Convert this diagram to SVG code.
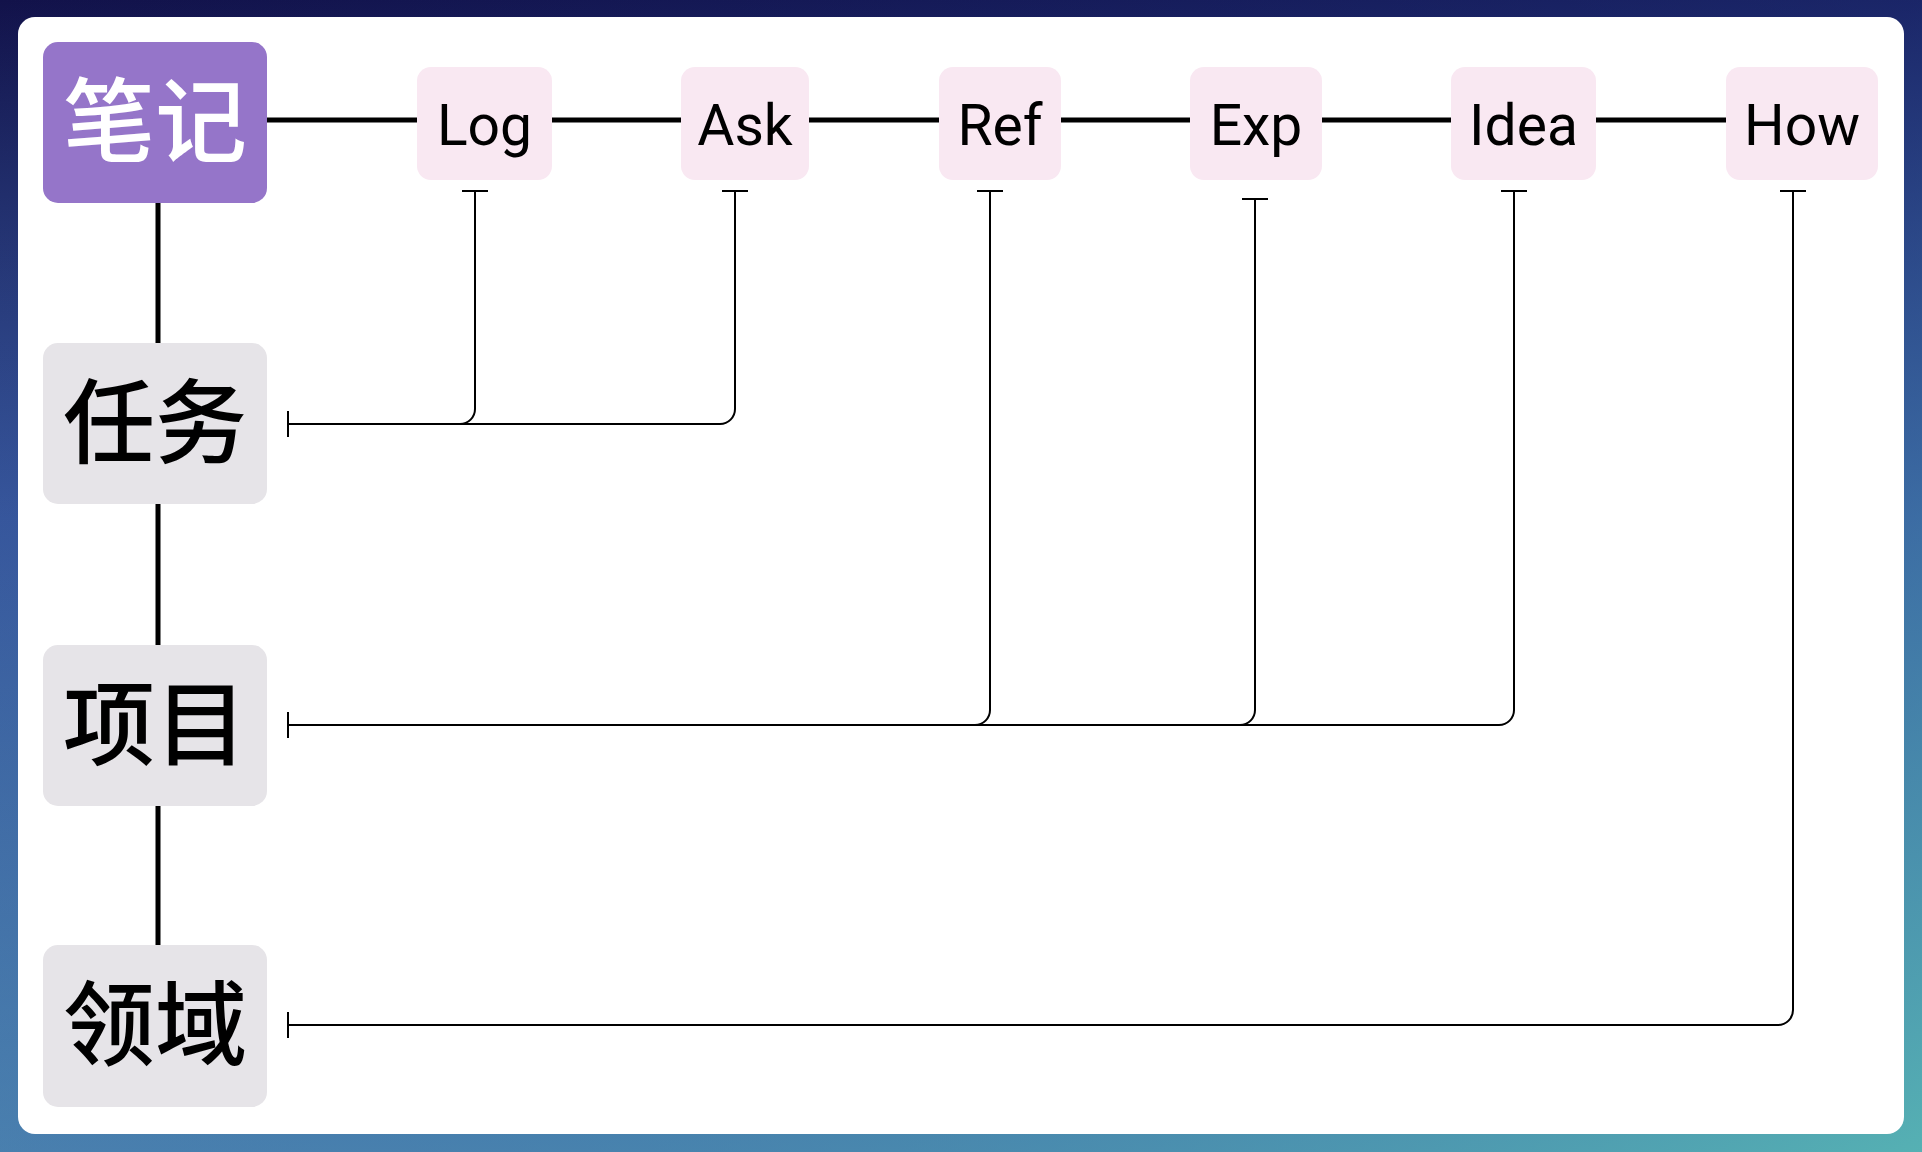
<svg xmlns="http://www.w3.org/2000/svg" width="1922" height="1152" viewBox="0 0 1922 1152">
  <defs>
    <linearGradient id="bgv" x1="0" y1="0" x2="0" y2="1">
      <stop offset="0" stop-color="#12124a"/>
      <stop offset="0.45" stop-color="#3a5a9c"/>
      <stop offset="1" stop-color="#5a9cb6"/>
    </linearGradient>
    <linearGradient id="bgh" x1="0" y1="0" x2="1" y2="1">
      <stop offset="0" stop-color="#1e3c9a" stop-opacity="0"/>
      <stop offset="0.5" stop-color="#2a4aa0" stop-opacity="0.35"/>
      <stop offset="1" stop-color="#55b3b3" stop-opacity="0.9"/>
    </linearGradient>
    <marker id="tee" viewBox="0 0 4 26" refX="2" refY="13" markerWidth="4" markerHeight="26" markerUnits="userSpaceOnUse" orient="auto">
      <line x1="2" y1="0" x2="2" y2="26" stroke="#000" stroke-width="2"/>
    </marker>
    <style>
      .top rect { fill: #f9e8f2; }
      .top text { font-family: Roboto, "Noto Sans", sans-serif; font-size: 57px; fill: #000; text-anchor: middle; }
      .side rect { fill: #e6e4e8; }
      .cjk { font-family: "Noto Sans CJK SC", "Noto Sans", sans-serif; font-size: 92px; font-weight: 500; text-anchor: middle; fill: #000; }
      .thick { stroke: #000; stroke-width: 5; fill: none; }
      .thin { stroke: #000; stroke-width: 2; fill: none; marker-start: url(#tee); marker-end: url(#tee); }
    </style>
  </defs>

  <rect x="0" y="0" width="1922" height="1152" fill="url(#bgv)"/>
  <rect x="0" y="0" width="1922" height="1152" fill="url(#bgh)"/>
  <rect x="18" y="17" width="1886" height="1117" rx="17" fill="#ffffff"/>

  <g id="connectors">
    <line class="thick" x1="267" y1="120" x2="1726" y2="120"/>
    <line class="thick" x1="158" y1="203" x2="158" y2="343"/>
    <line class="thick" x1="158" y1="504" x2="158" y2="645"/>
    <line class="thick" x1="158" y1="806" x2="158" y2="945"/>

    <path class="thin" d="M475,191 V409 A15,15 0 0 1 460,424 H288"/>
    <path class="thin" d="M735,191 V409 A15,15 0 0 1 720,424 H288"/>
    <path class="thin" d="M990,191 V710 A15,15 0 0 1 975,725 H288"/>
    <path class="thin" d="M1255,199 V710 A15,15 0 0 1 1240,725 H288"/>
    <path class="thin" d="M1514,191 V710 A15,15 0 0 1 1499,725 H288"/>
    <path class="thin" d="M1793,191 V1010 A15,15 0 0 1 1778,1025 H288"/>
  </g>

  <g id="node-biji">
    <rect x="43" y="42" width="224" height="161" rx="15" fill="#9575c9"/>
    <text class="cjk" x="155" y="155" style="fill:#ffffff">笔记</text>
  </g>
  <g id="node-renwu" class="side">
    <rect x="43" y="343" width="224" height="161" rx="15"/>
    <text class="cjk" x="155" y="456">任务</text>
  </g>
  <g id="node-xiangmu" class="side">
    <rect x="43" y="645" width="224" height="161" rx="15"/>
    <text class="cjk" x="155" y="758">项目</text>
  </g>
  <g id="node-lingyu" class="side">
    <rect x="43" y="945" width="224" height="162" rx="15"/>
    <text class="cjk" x="155" y="1058">领域</text>
  </g>

  <g id="node-log" class="top">
    <rect x="417" y="67" width="135" height="113" rx="14"/>
    <text x="484.5" y="145">Log</text>
  </g>
  <g id="node-ask" class="top">
    <rect x="681" y="67" width="128" height="113" rx="14"/>
    <text x="745" y="145">Ask</text>
  </g>
  <g id="node-ref" class="top">
    <rect x="939" y="67" width="122" height="113" rx="14"/>
    <text x="1000" y="145">Ref</text>
  </g>
  <g id="node-exp" class="top">
    <rect x="1190" y="67" width="132" height="113" rx="14"/>
    <text x="1256" y="145">Exp</text>
  </g>
  <g id="node-idea" class="top">
    <rect x="1451" y="67" width="145" height="113" rx="14"/>
    <text x="1523.5" y="145">Idea</text>
  </g>
  <g id="node-how" class="top">
    <rect x="1726" y="67" width="152" height="113" rx="14"/>
    <text x="1802" y="145">How</text>
  </g>
</svg>
